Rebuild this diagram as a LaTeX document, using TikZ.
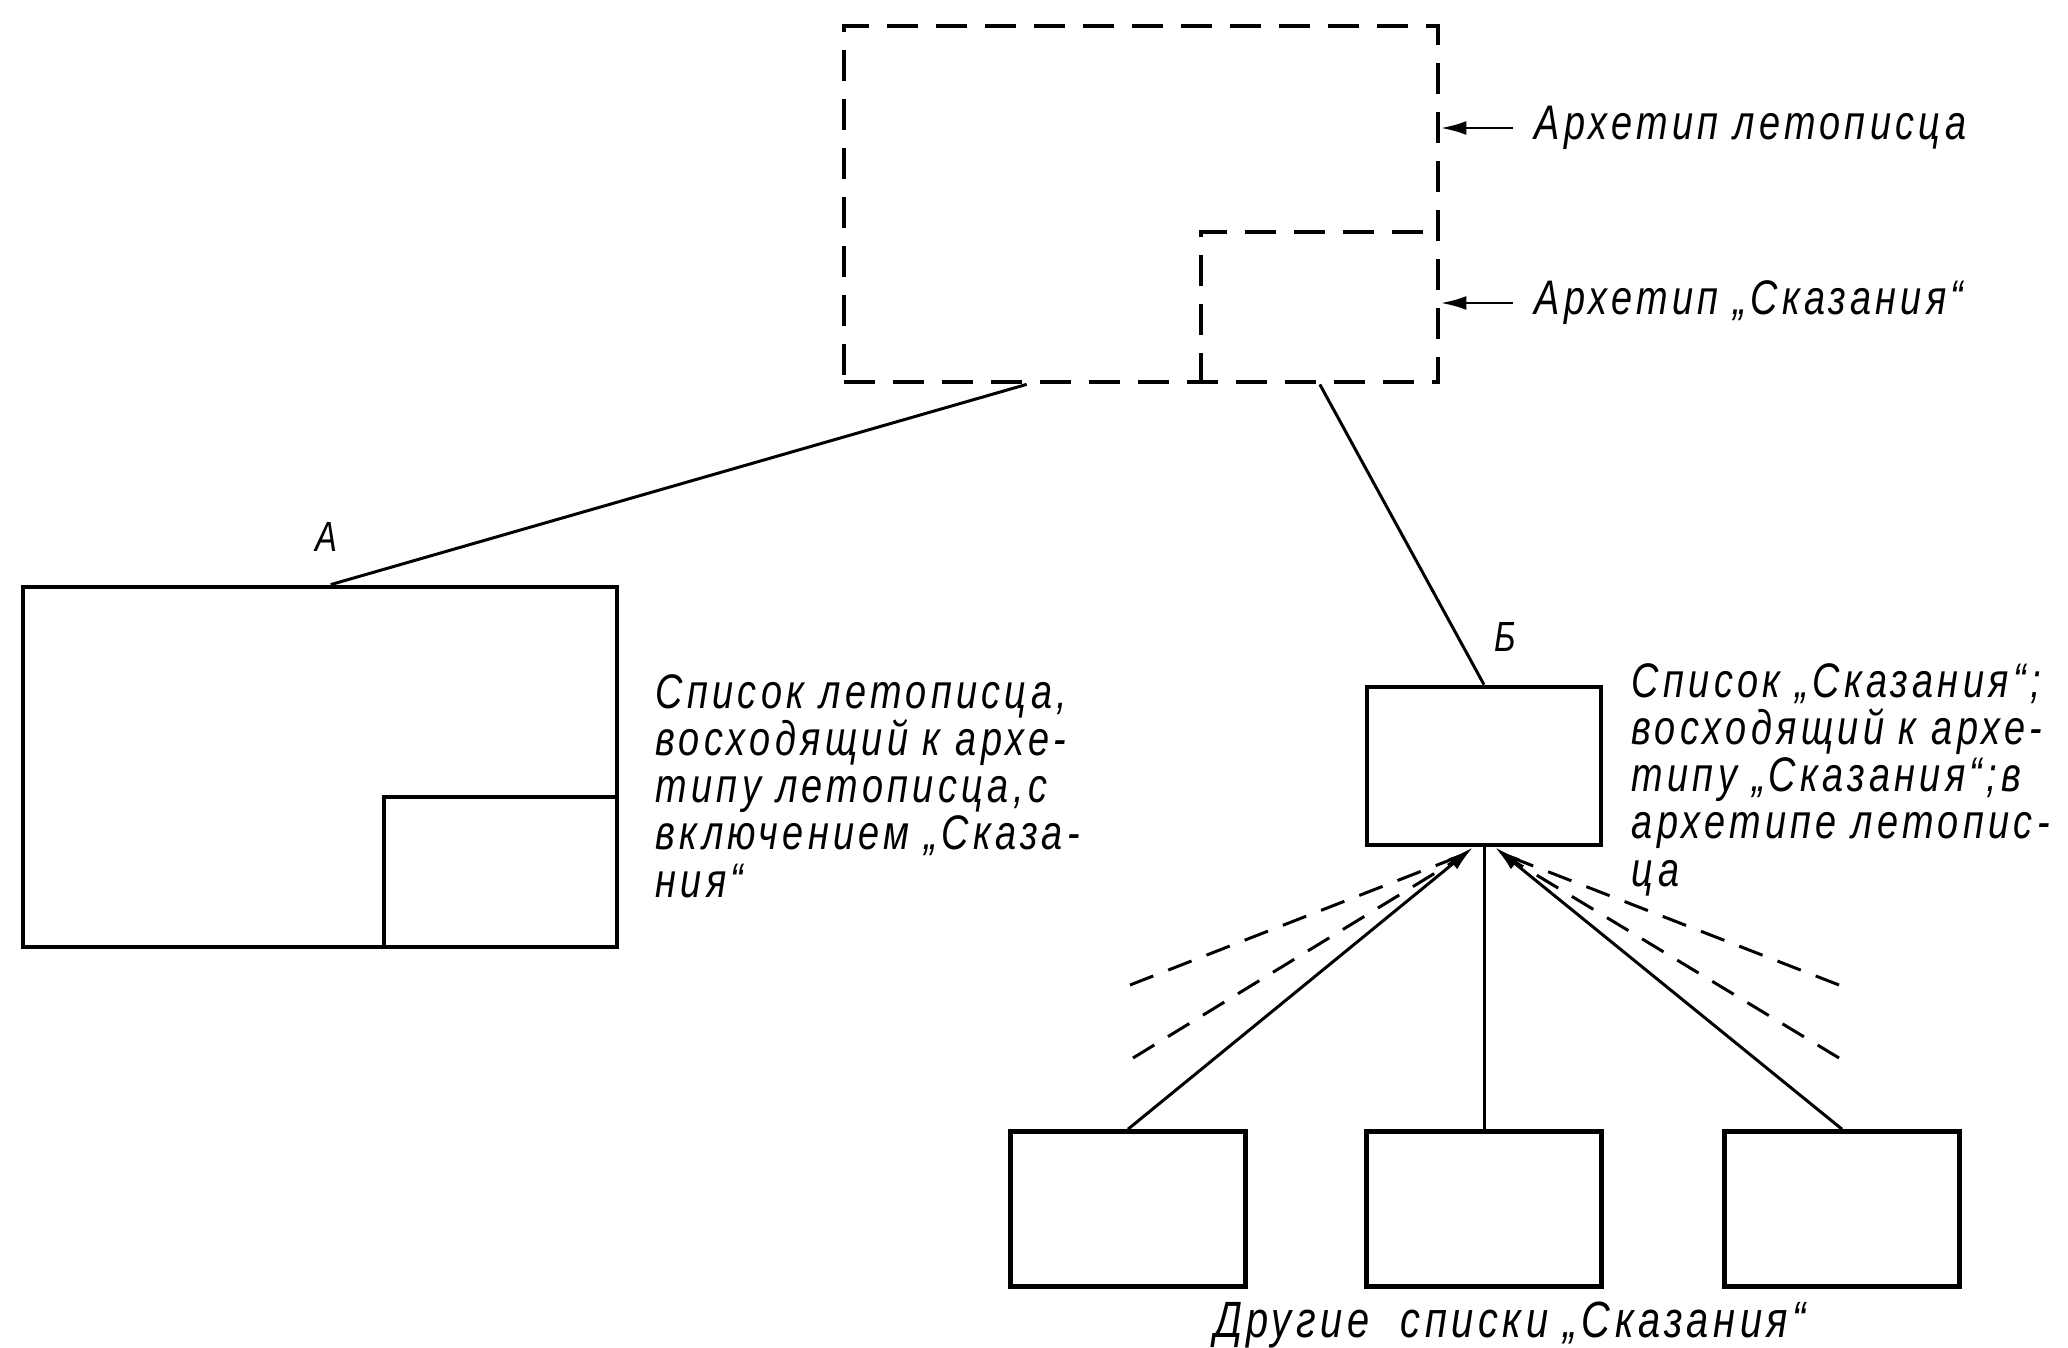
\documentclass[tikz,border=0pt]{standalone}
\usepackage{fontspec}
\setmainfont{Liberation Sans}[FakeStretch = 0.78, LetterSpace = 9]
\usetikzlibrary{positioning, arrows.meta}

\begin{document}
\begin{tikzpicture}[x = 0.01cm, y = -0.01cm, > = {Latex[length = 0.26cm, width = 0.14cm]},
	list/.style = {draw, line width = 1.3pt, inner sep = 0pt},
	archetype/.style = {list, dash pattern = on 0.31cm off 0.18cm},
	part/.style = {inner sep = 0pt, anchor = south east},
	link/.style = {line width = 0.85pt},
	trace/.style = {link, dash pattern = on 0.25cm off 0.16cm},
	note/.style = {font = \fontsize{13.8}{13.4}\selectfont\itshape, align = left, inner sep = 0pt},
	letter/.style = {font = \fontsize{12}{12}\selectfont\itshape, inner sep = 0pt}]

	\useasboundingbox (0, 0) rectangle (2068, 1348);

	% Archetypes (dashed)

	\node [archetype, minimum width = 5.94cm, minimum height = 3.56cm] (archL) at (1141, 204) {};
	\node [part, minimum width = 2.38cm, minimum height = 1.51cm] (archS) at (archL.south east) {};
	\draw [archetype] (archS.south west) |- (archS.north east);

	\node [note, anchor = west] (noteArchL) at (1534, 128) {Архетип летописца};
	\node [note, anchor = west] (noteArchS) at (1534, 303) {Архетип „Сказания“};

	\draw [link, ->] ([xshift = -0.21cm] noteArchL.west) -- (noteArchL.west -| archL.east);
	\draw [link, ->] ([xshift = -0.21cm] noteArchS.west) -- (noteArchS.west -| archL.east);

	% Lists

	\node [list, minimum width = 5.94cm, minimum height = 3.60cm] (listL) at (320, 767) {};
	\node [part, minimum width = 2.34cm, minimum height = 1.51cm] (listLS) at (listL.south east) {};
	\draw [list] (listLS.south west) |- (listLS.north east);

	\node [list, minimum width = 2.34cm, minimum height = 1.58cm] (listS) at (1484, 766) {};

	\foreach \x [count = \i] in {1128, 1484, 1842}
		\node [list, minimum width = 2.35cm, minimum height = 1.55cm] (other\i) at (\x, 1209) {};

	\node [letter] (labA) at (326, 537) {А};
	\node [letter] (labB) at (1505, 637) {Б};

	\node [note, anchor = north west] (noteL) at (655, 674) {Список летописца,\\восходящий к архе-\\типу летописца,с\\включением „Сказа-\\ния“};
	\node [note, anchor = north west] (noteS) at (1631, 663) {Список „Сказания“;\\восходящий к архе-\\типу „Сказания“;в\\архетипе летопис-\\ца};

	\node [note, font = \fontsize{14.5}{14}\selectfont\itshape, below = 0.12cm of other2, xshift = 0.26cm] (others) {Другие\ \ списки „Сказания“};

	% Descent

	\draw [link] ([xshift = 1.85cm] archL.south west) -- ([xshift = 3.10cm] listL.north west);
	\draw [link] ([xshift = 4.78cm] archL.south west) -- (listS.north);

	\draw [link, ->] (other1.north) -- ([xshift = -0.11cm] listS.south);
	\draw [link] (other2.north) -- (listS.south);
	\draw [link, ->] (other3.north) -- ([xshift = 0.11cm] listS.south);

	% Lost lists

	\coordinate (traceL1) at (1130, 985);
	\coordinate (traceL2) at (1133, 1058);
	\coordinate (traceR1) at (1839, 985);
	\coordinate (traceR2) at (1839, 1058);

	\draw [trace] (traceL1) -- ([xshift = -0.22cm, yshift = -0.08cm] listS.south);
	\draw [trace] (traceL2) -- ([xshift = -0.20cm, yshift = -0.08cm] listS.south);
	\draw [trace] (traceR1) -- ([xshift = 0.22cm, yshift = -0.08cm] listS.south);
	\draw [trace] (traceR2) -- ([xshift = 0.20cm, yshift = -0.08cm] listS.south);

\end{tikzpicture}
\end{document}
